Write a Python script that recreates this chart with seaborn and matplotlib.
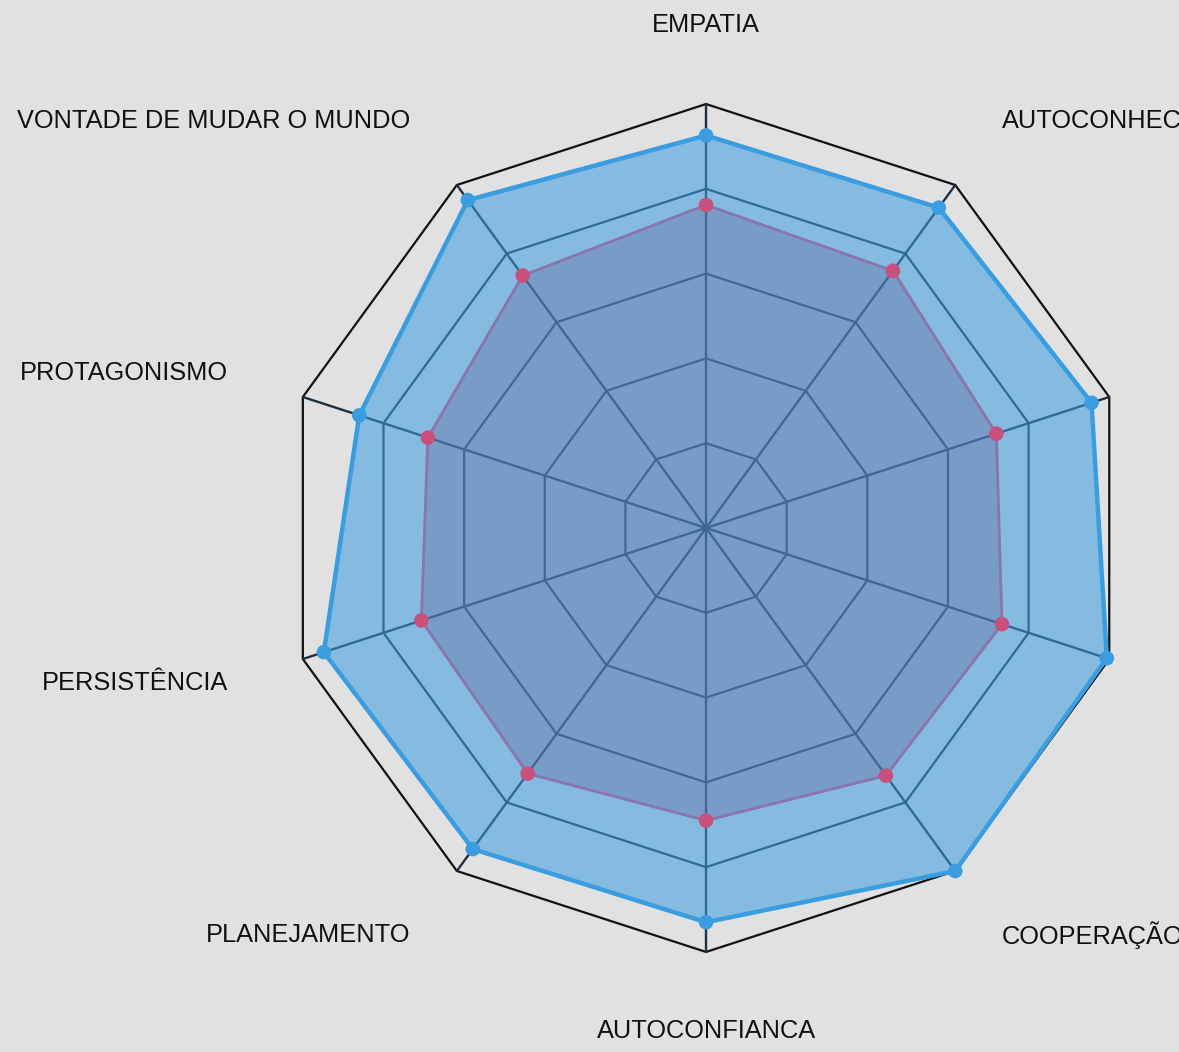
import numpy as np
import pandas as pd
import matplotlib
matplotlib.use("Agg")
import matplotlib.pyplot as plt
import seaborn as sns

# Competências avaliadas (sentido horário a partir do topo)
categories = [
    "EMPATIA",
    "AUTOCONHECIMENTO",
    "CRIATIVIDADE",
    "RESILIÊNCIA",
    "COOPERAÇÃO",
    "AUTOCONFIANCA",
    "PLANEJAMENTO",
    "PERSISTÊNCIA",
    "PROTAGONISMO",
    "VONTADE DE MUDAR O MUNDO",
]
# Escala de 0 a 5
serie_final = [4.63, 4.67, 4.78, 4.97, 5.0, 4.65, 4.68, 4.74, 4.30, 4.78]
serie_inicial = [3.81, 3.75, 3.60, 3.67, 3.61, 3.45, 3.58, 3.53, 3.45, 3.68]
grid_levels = [1, 2, 3, 4, 5]

sns.set_theme(style="white")
plt.rcParams["font.family"] = ["Liberation Sans", "DejaVu Sans"]

BG = "#e1e1e1"
BLUE = "#3a9de0"
INNER_FILL = "#62639b"
INNER_LINE = "#8a74ad"
PINK = "#c8507c"

n = len(categories)
angles = np.linspace(0, 2 * np.pi, n, endpoint=False)
closed = np.append(angles, angles[0])

df = pd.DataFrame({
    "angle": np.concatenate([angles, angles]),
    "valor": serie_final + serie_inicial,
    "serie": ["final"] * n + ["inicial"] * n,
})

fig = plt.figure(figsize=(11.79, 10.52), dpi=100, facecolor=BG)
ax = fig.add_axes([0.2392, 0.0951, 0.7193, 0.806], projection="polar")
ax.set_facecolor("none")
ax.set_theta_zero_location("N")
ax.set_theta_direction(-1)
ax.set_ylim(0, grid_levels[-1])
ax.grid(False)
ax.set_xticks([])
ax.set_yticks([])
ax.spines["polar"].set_visible(False)

# Polygonal grid: rings and spokes
for lvl in grid_levels:
    color = "#111111" if lvl == grid_levels[-1] else "#1f2f3f"
    ax.plot(closed, [lvl] * (n + 1), color=color, lw=1.6, zorder=1, clip_on=False)
for a in angles:
    ax.plot([a, a], [0, grid_levels[-1]], color="#1f2f3f", lw=1.7, zorder=1, clip_on=False)

# Outer series
vf = np.append(serie_final, serie_final[0])
ax.fill(closed, vf, color=BLUE, alpha=0.55, lw=0, zorder=2)
ax.plot(closed, vf, color=BLUE, lw=3.2, zorder=4, clip_on=False)

# Inner series
vi = np.append(serie_inicial, serie_inicial[0])
ax.fill(closed, vi, color=INNER_FILL, alpha=0.35, lw=0, zorder=3)
ax.plot(closed, vi, color=INNER_LINE, lw=2.0, zorder=4, clip_on=False)

sns.scatterplot(data=df, x="angle", y="valor", hue="serie",
                palette={"final": BLUE, "inicial": PINK},
                s=110, edgecolor="none", legend=False, ax=ax,
                zorder=5, clip_on=False)

# Category labels
label_r = grid_levels[-1] * 1.186
for a, name in zip(angles, categories):
    deg = np.degrees(a) % 360
    if np.isclose(deg, 0) or np.isclose(deg, 180):
        ha = "center"
    elif deg < 180:
        ha = "left"
    else:
        ha = "right"
    ax.text(a, label_r, name, ha=ha, va="center", fontsize=18.3,
            color="#111111", clip_on=False)

ax.set_xlabel("")
ax.set_ylabel("")
fig.savefig("out.png", dpi=100, facecolor=BG)
